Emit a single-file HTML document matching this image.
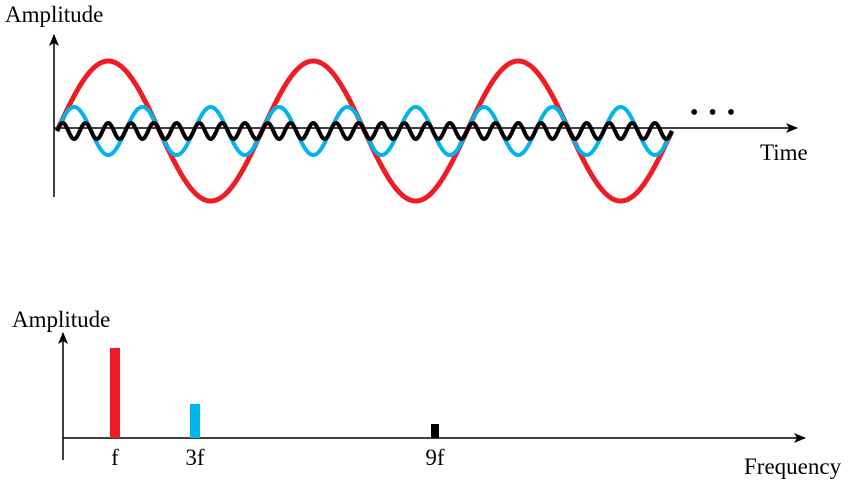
<!DOCTYPE html>
<html><head><meta charset="utf-8"><style>
body{margin:0;background:#fff}
svg{display:block}
text{font-family:"Liberation Serif",serif;font-size:23px;fill:#000}
</style></head><body>
<svg width="851" height="488" viewBox="0 0 851 488">
<defs><marker id="ar" markerWidth="12" markerHeight="10" refX="11" refY="5" orient="auto" markerUnits="userSpaceOnUse"><path d="M0,0 L12,5 L0,10 L3,5 Z" fill="#000"/></marker></defs>
<g id="topG">
<line x1="54" y1="197" x2="54" y2="35" stroke="#000" stroke-width="1.5" marker-end="url(#ar)"/>
<line x1="54" y1="128" x2="797" y2="128" stroke="#000" stroke-width="1.5" marker-end="url(#ar)"/>
<text x="5" y="22">Amplitude</text>
<text x="760" y="160">Time</text>
<text x="690" y="120" style="font-size:24px;letter-spacing:2px">• • •</text>
</g>
<g id="botG">
<line x1="63" y1="460" x2="63" y2="333" stroke="#000" stroke-width="1.5" marker-end="url(#ar)"/>
<line x1="63" y1="438" x2="805" y2="438" stroke="#000" stroke-width="1.5" marker-end="url(#ar)"/>
<text x="12" y="327">Amplitude</text>
<text x="744" y="474">Frequency</text>
</g>
</svg>
<script>
const harmonics=[1,3,9];
const amplitudes=[70,24,8];
const labels=['f','3f','9f'];
const spectrum=[90,34,14];
const colors=['#ee1c25','#00b4ef','#000'];
const NS='http://www.w3.org/2000/svg';
const topG=document.getElementById('topG'),botG=document.getElementById('botG');
const x0=57,period=205,cycles=3,cy=131;
const tx=t=>x0+t*period, ty=v=>cy-v;
const fx=n=>75+40*n, fy=v=>438-v;
harmonics.forEach((h,i)=>{
  let d='';
  for(let k=0;k<=1200;k++){const t=k/1200*cycles;const v=amplitudes[i]*Math.sin(2*Math.PI*h*t);d+=(k?'L':'M')+tx(t).toFixed(2)+','+ty(v).toFixed(2);}
  const p=document.createElementNS(NS,'path');
  p.setAttribute('d',d);p.setAttribute('fill','none');p.setAttribute('stroke',colors[i]);
  p.setAttribute('stroke-width',i==0?5:4);p.setAttribute('stroke-linejoin','round');
  
  
  topG.appendChild(p);
  const r=document.createElementNS(NS,'rect');
  const w=i==2?8:10;
  r.setAttribute('x',fx(h)-w/2);r.setAttribute('y',fy(spectrum[i]));r.setAttribute('width',w);r.setAttribute('height',spectrum[i]);r.setAttribute('fill',colors[i]);
  
  
  botG.appendChild(r);
  const t=document.createElementNS(NS,'text');
  t.setAttribute('x',fx(h));t.setAttribute('y',465);t.setAttribute('text-anchor','middle');t.textContent=labels[i];
  
  
  botG.appendChild(t);
});
</script>
</body></html>
